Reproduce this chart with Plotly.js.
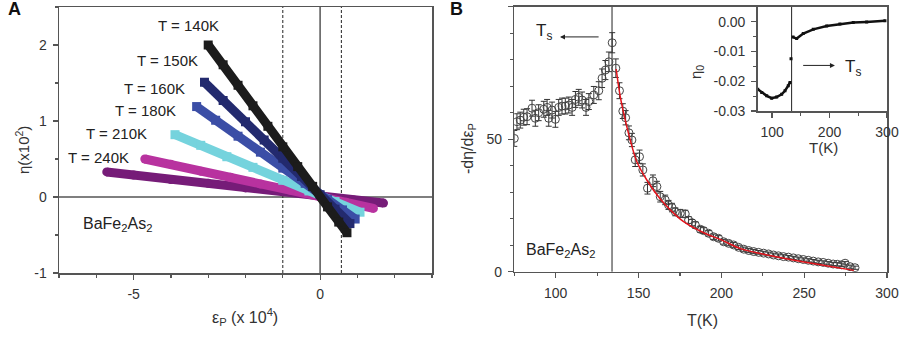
<!DOCTYPE html>
<html>
<head>
<meta charset="utf-8">
<script src="https://cdn.plot.ly/plotly-3.0.1.min.js"></script>
<style>html,body{margin:0;padding:0;background:#fff;}#chart{width:902px;height:337px;}</style>
</head>
<body>
<div id="chart"></div>
<script>
// ---------- Panel A data: eta (x10^2) vs strain eps_P (x10^4) ----------
const seriesNames = ['T = 140K','T = 150K','T = 160K','T = 180K','T = 210K','T = 240K'];
const seriesColors = ['#1c1c1c','#232a6e','#3b4ea6','#75d3dd','#b8329f','#761c78'];
const seriesSymbols = ['square','square','square','square','circle','circle'];
const eps140 = [-3.0,-2.6,-2.2,-1.8,-1.4,-1.0,-0.6,-0.2,0.2,0.5,0.72];
const eta140 = [2.0,1.74,1.47,1.2,0.93,0.66,0.40,0.14,-0.13,-0.33,-0.47];
const eps150 = [-3.1,-2.6,-2.0,-1.5,-1.0,-0.5,0,0.4,0.8];
const eta150 = [1.51,1.27,0.99,0.75,0.51,0.27,0.03,-0.16,-0.35];
const eps160 = [-3.31,-2.8,-2.2,-1.6,-1.0,-0.4,0.2,0.6,0.94];
const eta160 = [1.19,1.01,0.80,0.59,0.38,0.18,-0.03,-0.17,-0.29];
const eps180 = [-3.89,-3.2,-2.5,-1.8,-1.0,-0.3,0.4,1.07];
const eta180 = [0.82,0.68,0.53,0.39,0.22,0.08,-0.06,-0.20];
const eps210 = [-4.70,-4.0,-3.2,-2.4,-1.6,-0.8,0,0.7,1.43];
const eta210 = [0.50,0.43,0.34,0.26,0.17,0.09,0.0,-0.07,-0.15];
const eps240 = [-5.72,-5.0,-4.0,-3.0,-2.0,-1.0,0,0.9,1.70];
const eta240 = [0.33,0.29,0.23,0.18,0.12,0.07,0.01,-0.04,-0.08];
const labelEps = [-3.54,-4.08,-4.45,-4.67,-5.45,-5.93];
const labelEta = [2.26,1.80,1.43,1.14,0.83,0.52];
const dashedEps = [-1.0, 0.57];
const aXTickVals = [-5, 0];  const aXTickText = ['-5','0'];
const aYTickVals = [-1, 0, 1, 2]; const aYTickText = ['-1','0','1','2'];

// ---------- Panel B data: -d eta / d eps_P vs T ----------
const tempB = [75,76.6,78.6,80.7,82.7,85.7,87.7,89.7,92.8,94.8,95.8,97.8,99.8,101.8,103.8,105.8,107.9,109.9,111.9,113.9,115.9,118.3,120,123,126,128,130,132.1,134.1,136.3,138.5,140.5,142.2,144.2,146,148,150.6,152.6,155.4,158.7,161.1,163.1,166.1,168.1,170.2,172.2,175.2,178.2,180.2,182.3,184.3,187.3,189.3,192.3,195.3,198.3,201.4,204.4,207.4,210.4,213.5,216.5,219.5,222.5,225.5,228.5,231.5,234.5,237.5,240.5,243.5,246.5,249.5,252.5,255.5,258.5,261.5,264.5,267.5,270,272.5,274.7,277.7,280.7];
const slopeB = [50.3,56.6,57.2,58.3,58.5,61.7,57.9,60,61.3,62,57.9,61,57.5,62,62.5,62.5,62.9,62,65,65.8,64.8,62,64.2,66.7,68.3,73,76.1,79.2,86.4,76.8,68.3,60.6,58.1,52.4,49.7,42.2,43.4,38.4,31.5,34.3,32.1,28.3,27.1,25.2,24.2,22.6,22,21.8,19.5,18.5,17.6,16,15.5,14.5,13.2,12.6,11.3,10.7,10.1,9.2,8.5,8.0,7.6,7.3,7.0,6.7,6.3,6.0,5.7,5.5,5.2,4.9,4.6,4.3,4.0,3.7,3.5,3.2,2.9,2.8,2.6,3.2,1.9,1.5];
const errB = [3,3,3,3,3,3,3,3,3,3,3,3,3,3,3,3,3,3,3,3,3,3,3,3.2,3.4,3.5,3.6,3.7,3.8,3.5,3,2.8,2.7,2.6,2.5,2.5,2.5,2.3,2.2,2.2,2,2,1.8,1.7,1.6,1.5,1.5,1.4,1.3,1.2,1.2,1.1,1.1,1,1,1,0.9,0.9,0.9,0.8,0.8,0.8,0.8,0.7,0.7,0.7,0.7,0.7,0.7,0.6,0.6,0.6,0.6,0.6,0.6,0.6,0.6,0.6,0.6,0.6,0.6,0.6,0.6,0.6];
const fitT = [136.5,139,142,145,149,155,163,170,177,190,200,212,225,240,250,265,280];
const fitV = [76.5,66,57.2,49.7,41.5,34.6,27.5,22.8,19.0,14.5,12.0,8.6,6.7,4.8,3.7,2.1,0.5];
const tS = 134;
const bXTickVals = [100,150,200,250,300]; const bXTickText = ['100','150','200','250','300'];
const bYTickVals = [0,50,100]; const bYTickText = ['0','50','100'];

// ---------- Inset data: eta_0 vs T ----------
const insetTLow = [75,82,90.7,99.3,108,116.7,122.5,128.2,131.2];
const insetVLow = [-0.0227,-0.0238,-0.0249,-0.0257,-0.0253,-0.0244,-0.0232,-0.0215,-0.0204];
const insetTJump = [133];
const insetVJump = [-0.0125];
const insetTHigh = [136.5,142.8,154.3,171.7,195,218,241.3,264.6,296.4];
const insetVHigh = [-0.0052,-0.0057,-0.0040,-0.0026,-0.0015,-0.0008,-0.0003,-0.0001,0.0003];
const inXTickVals = [100,200,300]; const inXTickText = ['100','200','300'];
const inYTickVals = [0,-0.01,-0.02,-0.03]; const inYTickText = ['0.00','-0.01','-0.02','-0.03'];

// ---------- geometry helpers (paper fractions from pixels) ----------
const W = 902, H = 337;
const px = v => v / W;
const py = v => 1 - v / H;

const axisColor = '#555';
const fontFam = 'Liberation Sans, Arial, sans-serif';
const textColor = '#333';

function baseAxis(extra) {
  return Object.assign({
    showline: true, linecolor: axisColor, linewidth: 1.5, mirror: true,
    ticks: 'outside', ticklen: 5, tickwidth: 1.2, tickcolor: axisColor,
    showgrid: false, zeroline: false, tickmode: 'array',
    tickfont: {family: fontFam, size: 14, color: textColor},
    ticklabelstandoff: 3,
    fixedrange: true
  }, extra);
}
function mirrorAxis(extra) {
  return Object.assign({
    showline: false, ticks: 'inside', ticklen: 5, tickwidth: 1.2, tickcolor: axisColor,
    showgrid: false, zeroline: false, showticklabels: false, tickmode: 'array',
    fixedrange: true
  }, extra);
}

const traces = [];
const epsList = [eps140, eps150, eps160, eps180, eps210, eps240];
const etaList = [eta140, eta150, eta160, eta180, eta210, eta240];
for (let i = epsList.length - 1; i >= 0; i--) {
  traces.push({
    x: epsList[i], y: etaList[i], xaxis: 'x', yaxis: 'y', name: seriesNames[i],
    mode: 'lines+markers', type: 'scatter',
    line: {color: seriesColors[i], width: 9},
    marker: {color: seriesColors[i], size: 9, symbol: seriesSymbols[i]},
    hoverinfo: 'skip'
  });
}
traces.push({
  x: tempB, y: slopeB, xaxis: 'x2', yaxis: 'y2', mode: 'markers', type: 'scatter',
  marker: {symbol: 'circle-open', size: 8, color: '#444', line: {width: 1, color: '#444'}},
  error_y: {type: 'data', array: errB, visible: true, color: '#333', thickness: 1, width: 3},
  hoverinfo: 'skip'
});
traces.push({
  x: fitT, y: fitV, xaxis: 'x2', yaxis: 'y2', mode: 'lines', type: 'scatter',
  line: {color: '#e3141c', width: 1.5, shape: 'spline'}, hoverinfo: 'skip'
});
traces.push({
  x: insetTLow, y: insetVLow, xaxis: 'x3', yaxis: 'y3', mode: 'lines+markers', type: 'scatter',
  line: {color: '#111', width: 2.5}, marker: {symbol: 'square', size: 3, color: '#111'}, hoverinfo: 'skip'
});
traces.push({
  x: insetTJump, y: insetVJump, xaxis: 'x3', yaxis: 'y3', mode: 'markers', type: 'scatter',
  marker: {symbol: 'square', size: 3, color: '#111'}, hoverinfo: 'skip'
});
traces.push({
  x: insetTHigh, y: insetVHigh, xaxis: 'x3', yaxis: 'y3', mode: 'lines+markers', type: 'scatter',
  line: {color: '#111', width: 2.5}, marker: {symbol: 'square', size: 3, color: '#111'}, hoverinfo: 'skip'
});

const aXRange = [-7, 3], aYRange = [-1, 2.5];
const bXRange = [75, 300], bYRange = [0, 100];
const inXRange = [75, 300], inYRange = [-0.03, 0.005];

const shapes = [
  {type: 'line', xref: 'x', yref: 'y domain', x0: 0, x1: 0, y0: 0, y1: 1, line: {color: axisColor, width: 1.5}, layer: 'below'},
  {type: 'line', xref: 'x domain', yref: 'y', x0: 0, x1: 1, y0: 0, y1: 0, line: {color: axisColor, width: 1.5}, layer: 'below'},
  {type: 'line', xref: 'x2', yref: 'y2 domain', x0: tS, x1: tS, y0: 0, y1: 1, line: {color: '#222', width: 1}, layer: 'below'},
  {type: 'line', xref: 'x3', yref: 'y3 domain', x0: tS, x1: tS, y0: 0, y1: 1, line: {color: '#222', width: 1}, layer: 'below'}
];
dashedEps.forEach(e => shapes.push({type: 'line', xref: 'x', yref: 'y domain', x0: e, x1: e, y0: 0, y1: 1,
  line: {color: '#222', width: 1, dash: '3px,2px'}, layer: 'below'}));

const ann = [];
function txt(text, x, y, opts) {
  ann.push(Object.assign({text: text, x: x, y: y, xref: 'paper', yref: 'paper', showarrow: false,
    font: {family: fontFam, size: 14, color: textColor}, xanchor: 'center', yanchor: 'middle'}, opts || {}));
}
for (let i = 0; i < seriesNames.length; i++) {
  ann.push({text: seriesNames[i], x: labelEps[i], y: labelEta[i], xref: 'x', yref: 'y', showarrow: false,
    font: {family: fontFam, size: 15, color: '#222'}, xanchor: 'center', yanchor: 'middle'});
}
txt('BaFe<sub>2</sub>As<sub>2</sub>', px(81), py(224), {xanchor: 'left', font: {family: fontFam, size: 16, color: '#222'}});
txt('BaFe<sub>2</sub>As<sub>2</sub>', px(524), py(250), {xanchor: 'left', font: {family: fontFam, size: 16, color: '#222'}});
txt('η(x10<sup>2</sup>)', px(22), py(150), {textangle: -90, font: {family: fontFam, size: 15, color: textColor}});
txt('ε<sub>P</sub> (x 10<sup>4</sup>)', px(245), py(317), {font: {family: fontFam, size: 16, color: textColor}});
txt('-dη/dε<sub>P</sub>', px(468), py(148), {textangle: -90, font: {family: fontFam, size: 16, color: textColor}});
txt('T(K)', px(702), py(320), {font: {family: fontFam, size: 16, color: textColor}});
txt('η<sub>0</sub>', px(696), py(72), {textangle: -90, font: {family: fontFam, size: 15, color: textColor}});
txt('T(K)', px(823), py(147), {font: {family: fontFam, size: 15, color: textColor}});
txt('<b>A</b>', px(15), py(9), {font: {family: fontFam, size: 18, color: '#111'}});
txt('<b>B</b>', px(457), py(9), {font: {family: fontFam, size: 18, color: '#111'}});
txt('T<sub>s</sub>', px(534), py(32), {xanchor: 'left', font: {family: fontFam, size: 17, color: '#222'}});
txt('T<sub>s</sub>', px(843), py(68), {xanchor: 'left', font: {family: fontFam, size: 17, color: '#222'}});
ann.push({text: '', x: 102.6, y: 88.6, xref: 'x2', yref: 'y2', ax: 126.8, ay: 88.6, axref: 'x2', ayref: 'y2',
  showarrow: true, arrowhead: 2, arrowsize: 1, arrowwidth: 1, arrowcolor: '#222'});
ann.push({text: '', x: 209.4, y: -0.0147, xref: 'x3', yref: 'y3', ax: 151.5, ay: -0.0147, axref: 'x3', ayref: 'y3',
  showarrow: true, arrowhead: 2, arrowsize: 1, arrowwidth: 1, arrowcolor: '#222'});

const layout = {
  width: W, height: H, margin: {l: 0, r: 0, t: 0, b: 0},
  paper_bgcolor: '#fff', plot_bgcolor: 'rgba(0,0,0,0)', showlegend: false,
  font: {family: fontFam, size: 14, color: textColor},
  xaxis: baseAxis({domain: [px(59), px(432)], anchor: 'y', range: aXRange, tickvals: aXTickVals, ticktext: aXTickText,
    minor: {dtick: 1, tick0: 0, ticks: 'outside', ticklen: 3, tickcolor: axisColor}}),
  yaxis: baseAxis({domain: [py(273), py(7)], anchor: 'x', range: aYRange, tickvals: aYTickVals, ticktext: aYTickText,
    minor: {dtick: 0.5, tick0: 0, ticks: 'outside', ticklen: 3, tickcolor: axisColor}}),
  xaxis2: baseAxis({domain: [px(514.3), px(887)], anchor: 'y2', range: bXRange, tickvals: bXTickVals, ticktext: bXTickText,
    minor: {dtick: 25, tick0: 0, ticks: 'outside', ticklen: 3, tickcolor: axisColor}}),
  yaxis2: baseAxis({domain: [py(271.7), py(6.7)], anchor: 'x2', range: bYRange, tickvals: bYTickVals, ticktext: bYTickText,
    minor: {dtick: 10, tick0: 0, ticks: 'outside', ticklen: 3, tickcolor: axisColor}}),
  xaxis3: baseAxis({domain: [px(757.7), px(887)], anchor: 'y3', range: inXRange, tickvals: inXTickVals, ticktext: inXTickText,
    minor: {dtick: 50, tick0: 0, ticks: 'outside', ticklen: 3, tickcolor: axisColor}}),
  yaxis3: baseAxis({domain: [py(111), py(6.7)], anchor: 'x3', range: inYRange, tickvals: inYTickVals, ticktext: inYTickText,
    minor: {dtick: 0.005, tick0: 0, ticks: 'outside', ticklen: 3, tickcolor: axisColor}}),
  xaxis4: mirrorAxis({overlaying: 'x', side: 'top', anchor: 'y', range: aXRange, tickvals: aXTickVals,
    minor: {dtick: 1, tick0: 0, ticks: 'inside', ticklen: 3, tickcolor: axisColor}}),
  yaxis4: mirrorAxis({overlaying: 'y', side: 'right', anchor: 'x', range: aYRange, tickvals: aYTickVals,
    minor: {dtick: 0.5, tick0: 0, ticks: 'inside', ticklen: 3, tickcolor: axisColor}}),
  xaxis5: mirrorAxis({overlaying: 'x2', side: 'top', anchor: 'y2', range: bXRange, tickvals: bXTickVals,
    minor: {dtick: 25, tick0: 0, ticks: 'inside', ticklen: 3, tickcolor: axisColor}}),
  yaxis5: mirrorAxis({overlaying: 'y2', side: 'right', anchor: 'x2', range: bYRange, tickvals: bYTickVals,
    minor: {dtick: 10, tick0: 0, ticks: 'inside', ticklen: 3, tickcolor: axisColor}}),
  xaxis6: mirrorAxis({overlaying: 'x3', side: 'top', anchor: 'y3', range: inXRange, tickvals: inXTickVals,
    minor: {dtick: 50, tick0: 0, ticks: 'inside', ticklen: 3, tickcolor: axisColor}}),
  yaxis6: mirrorAxis({overlaying: 'y3', side: 'right', anchor: 'x3', range: inYRange, tickvals: inYTickVals,
    minor: {dtick: 0.005, tick0: 0, ticks: 'inside', ticklen: 3, tickcolor: axisColor}}),
  shapes: shapes,
  annotations: ann
};

Plotly.newPlot('chart', traces, layout, {staticPlot: true, displayModeBar: false});
</script>
</body>
</html>
